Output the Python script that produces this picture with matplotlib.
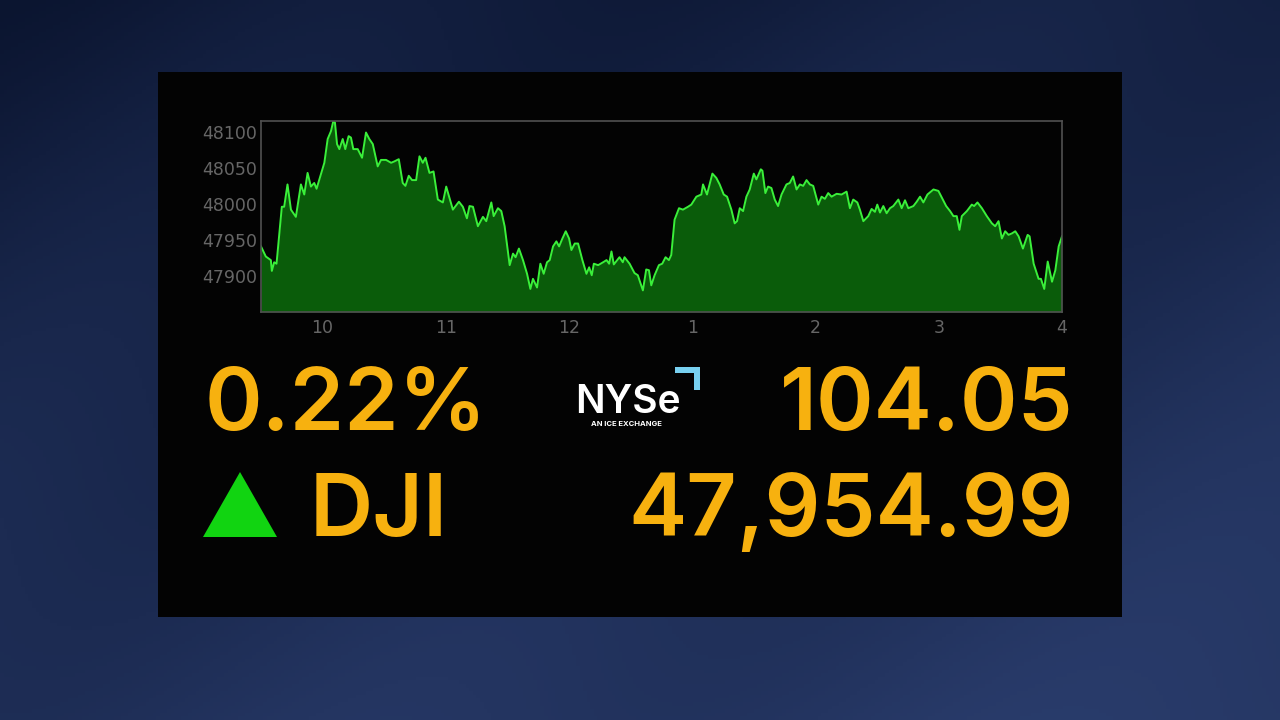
import numpy as np
import matplotlib
matplotlib.use('Agg')
import matplotlib.pyplot as plt
from matplotlib.patches import Rectangle, Polygon

#Intraday DJI values (time in decimal hours, value in index points)
hours = [9.500, 9.539, 9.580, 9.588, 9.607, 9.626, 9.669, 9.688, 9.715, 9.743,
         9.783, 9.824, 9.851, 9.878, 9.905, 9.932, 9.951, 9.986, 10.014, 10.041,
         10.068, 10.087, 10.100, 10.117, 10.136, 10.163, 10.184, 10.211, 10.230, 10.249,
         10.285, 10.320, 10.352, 10.379, 10.407, 10.447, 10.474, 10.515, 10.556, 10.583,
         10.618, 10.650, 10.672, 10.699, 10.726, 10.759, 10.786, 10.813, 10.835, 10.867,
         10.900, 10.935, 10.976, 11.003, 11.030, 11.057, 11.106, 11.138, 11.171, 11.192,
         11.220, 11.260, 11.301, 11.328, 11.369, 11.388, 11.423, 11.450, 11.477, 11.518,
         11.545, 11.566, 11.593, 11.626, 11.659, 11.686, 11.707, 11.740, 11.767, 11.794,
         11.821, 11.843, 11.870, 11.897, 11.919, 11.946, 11.973, 12.000, 12.019, 12.046,
         12.073, 12.108, 12.141, 12.163, 12.184, 12.201, 12.236, 12.276, 12.304, 12.325,
         12.344, 12.363, 12.409, 12.436, 12.450, 12.491, 12.531, 12.558, 12.599, 12.626,
         12.648, 12.667, 12.694, 12.729, 12.756, 12.783, 12.810, 12.829, 12.856, 12.892,
         12.924, 12.965, 12.992, 13.033, 13.073, 13.087, 13.119, 13.163, 13.195, 13.222,
         13.255, 13.282, 13.317, 13.344, 13.363, 13.385, 13.412, 13.439, 13.466, 13.499,
         13.520, 13.556, 13.569, 13.593, 13.615, 13.642, 13.669, 13.696, 13.724, 13.764,
         13.791, 13.818, 13.846, 13.873, 13.900, 13.927, 13.954, 13.981, 14.022, 14.049,
         14.076, 14.103, 14.130, 14.171, 14.211, 14.252, 14.279, 14.306, 14.339, 14.360,
         14.388, 14.428, 14.455, 14.482, 14.501, 14.523, 14.550, 14.577, 14.604, 14.631,
         14.672, 14.699, 14.726, 14.753, 14.794, 14.821, 14.848, 14.875, 14.908, 14.957,
         14.997, 15.033, 15.060, 15.092, 15.119, 15.146, 15.168, 15.187, 15.228, 15.268,
         15.287, 15.314, 15.350, 15.390, 15.431, 15.458, 15.485, 15.512, 15.539, 15.566,
         15.593, 15.621, 15.648, 15.683, 15.721, 15.737, 15.770, 15.810, 15.829, 15.856,
         15.884, 15.919, 15.946, 15.973, 16.000]
values = [47941, 47927, 47922, 47907, 47919, 47917, 47996, 47996, 48027, 47992,
          47982, 48027, 48013, 48043, 48024, 48029, 48021, 48041, 48057, 48090,
          48101, 48115, 48113, 48083, 48076, 48090, 48076, 48094, 48092, 48076,
          48076, 48064, 48099, 48090, 48083, 48052, 48061, 48061, 48057, 48059,
          48062, 48029, 48025, 48039, 48033, 48033, 48066, 48057, 48064, 48043,
          48045, 48006, 48002, 48024, 48008, 47992, 48003, 47996, 47980, 47997,
          47996, 47969, 47982, 47976, 48002, 47983, 47994, 47990, 47969, 47915,
          47931, 47926, 47938, 47922, 47903, 47882, 47896, 47884, 47917, 47903,
          47919, 47922, 47941, 47948, 47941, 47952, 47962, 47952, 47936, 47945,
          47945, 47922, 47903, 47912, 47901, 47917, 47915, 47919, 47922, 47917,
          47934, 47916, 47926, 47919, 47926, 47917, 47904, 47901, 47880, 47909,
          47908, 47887, 47901, 47915, 47917, 47926, 47922, 47929, 47978, 47994,
          47992, 47996, 47999, 48010, 48013, 48027, 48013, 48042, 48036, 48027,
          48013, 48010, 47992, 47973, 47976, 47994, 47990, 48010, 48020, 48042,
          48034, 48048, 48046, 48015, 48024, 48022, 48006, 47997, 48013, 48027,
          48029, 48038, 48020, 48027, 48025, 48033, 48027, 48025, 47999, 48010,
          48007, 48015, 48010, 48014, 48013, 48017, 47994, 48006, 48002, 47992,
          47976, 47983, 47993, 47989, 47999, 47988, 47997, 47987, 47994, 47997,
          48006, 47994, 48005, 47994, 47997, 48003, 48010, 48002, 48013, 48020,
          48018, 48006, 47997, 47990, 47983, 47983, 47964, 47983, 47990, 47999,
          47997, 48002, 47994, 47983, 47973, 47969, 47976, 47952, 47962, 47957,
          47959, 47962, 47955, 47938, 47957, 47955, 47917, 47896, 47896, 47882,
          47920, 47892, 47908, 47941, 47955]

ytick_vals = [47900, 47950, 48000, 48050, 48100]
xtick_vals = [10, 11, 12, 13, 14, 15, 16]
xtick_labels = ['10', '11', '12', '1', '2', '3', '4']

pct_change = '0.22%'
point_change = '104.05'
index_name = 'DJI'
last_value = '47,954.99'

ylo, yhi = 47850, 48115
orange = '#f7b10f'
big = dict(color=orange, fontsize=63, family=['Inter', 'DejaVu Sans'], fontweight='semibold', va='baseline')

fig = plt.figure(figsize=(12.8, 7.2), dpi=100)

#Background gradient and black panel (pixel coordinates)
bg = fig.add_axes([0, 0, 1, 1])
yy, xx = np.mgrid[0:1:200j, 0:1:360j]
grad = 0.55*yy + 0.25*xx + 0.15*np.sin(6*xx + 3*yy)**2
bg.imshow(grad, cmap=matplotlib.colors.LinearSegmentedColormap.from_list('bg', ['#0b1530', '#1c2b52', '#2c3f70']),
          extent=[0, 1280, 720, 0], aspect='auto', vmin=0, vmax=1)
bg.add_patch(Rectangle((158, 72), 964, 545, facecolor='#030303', edgecolor='none'))
bg.set_xlim(0, 1280)
bg.set_ylim(720, 0)
bg.axis('off')

#Text and markers
bg.text(205, 430, pct_change, ha='left', **big)
bg.text(1074, 430, point_change, ha='right', **big)
bg.text(310, 536, index_name, ha='left', **big)
bg.text(1074, 536, last_value, ha='right', **big)
bg.add_patch(Polygon([(203, 537), (277, 537), (240, 472)], closed=True, facecolor='#11d411', edgecolor='none'))

#NYSE logo
bg.text(575, 413, 'NYSe', color='white', fontsize=28, family='Inter', fontweight='semibold', va='baseline', ha='left')
bg.text(626, 426, 'AN ICE EXCHANGE', color='white', fontsize=5.5, family='Inter', fontweight='bold', va='baseline', ha='center')
bg.add_patch(Polygon([(675, 367), (700, 367), (700, 390), (694, 390), (694, 373), (675, 373)],
                     closed=True, facecolor='#78d0f0', edgecolor='none'))

#Chart
ax = fig.add_axes([261/1280, 1 - 312/720, (1062 - 261)/1280, (312 - 121)/720])
ax.set_facecolor('#030303')
ax.fill_between(hours, values, ylo, color='#0a5c0a', linewidth=0)
ax.plot(hours, values, color='#3af03a', linewidth=1.4)
ax.set_xlim(9.5, 16)
ax.set_ylim(ylo, yhi)
ax.set_yticks(ytick_vals)
ax.set_yticklabels([str(v) for v in ytick_vals])
ax.set_xticks(xtick_vals)
ax.set_xticklabels(xtick_labels)
ax.tick_params(length=0, colors='#666666', labelsize=12.5)
ax.tick_params(axis='x', pad=5)
ax.tick_params(axis='y', pad=3)
for s in ax.spines.values():
    s.set_color('#505050')
    s.set_linewidth(1.2)

fig.savefig('out.png', dpi=100)
